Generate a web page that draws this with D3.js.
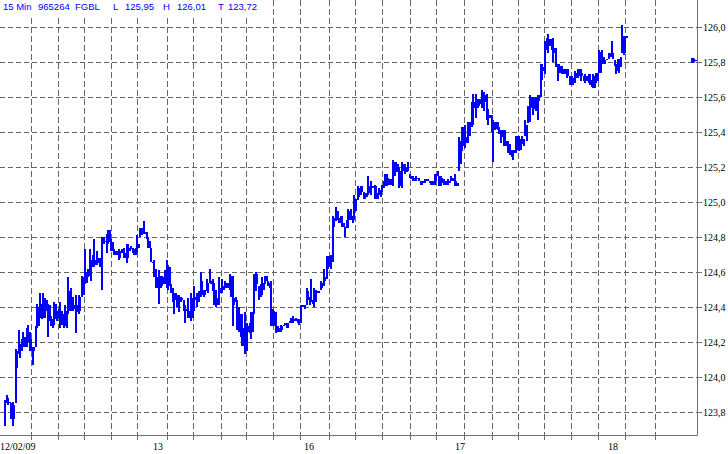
<!DOCTYPE html>
<html><head><meta charset="utf-8">
<script src="https://cdn.jsdelivr.net/npm/d3@7"></script>
<style>html,body{margin:0;padding:0;background:#fff;overflow:hidden;} svg{display:block;}</style>
</head><body>
<svg id="c" width="728" height="454"></svg>
<script>
// ---- DATA (15-minute bars, FGBL) ----
const high = [
123.87,123.90,123.88,123.86,123.85,123.86,123.84,124.16,124.15,124.27,
124.19,124.22,124.26,124.23,124.28,124.30,124.26,124.22,124.17,124.17,
124.29,124.42,124.40,124.48,124.42,124.48,124.45,124.44,124.42,124.41,
124.35,124.33,124.43,124.42,124.38,124.39,124.43,124.38,124.36,124.41,
124.38,124.57,124.49,124.51,124.46,124.41,124.47,124.41,124.47,124.46,
124.58,124.57,124.73,124.60,124.62,124.73,124.67,124.70,124.79,124.67,
124.72,124.68,124.68,124.80,124.80,124.78,124.82,124.84,124.84,
124.79,124.77,124.73,124.72,124.72,124.73,124.72,124.73,124.74,124.71,
124.76,124.76,124.74,124.75,124.74,124.73,124.74,124.81,124.76,124.85,
124.85,124.89,124.83,124.83,124.80,124.78,124.74,124.66,124.67,124.62,
124.57,124.61,124.58,124.58,124.57,124.61,124.67,124.64,124.63,124.53,
124.51,124.48,124.48,124.47,124.47,124.46,124.45,124.44,124.41,124.39,
124.45,124.38,124.48,124.45,124.52,124.46,124.48,124.49,124.60,124.55,
124.50,124.50,124.56,124.54,124.62,124.55,124.56,124.54,
124.50,124.45,124.57,124.51,124.56,124.52,124.55,124.54,124.54,124.59,
124.58,124.58,124.45,124.46,124.44,124.40,124.36,124.36,124.28,124.37,
124.31,124.29,124.31,124.37,124.37,124.59,124.60,124.59,124.52,124.53,
124.57,124.54,124.58,124.58,124.55,124.54,124.55,124.39,124.38,124.37,
124.29,124.28,124.30,124.29,124.30,124.31,124.31,124.31,124.32,124.34,
124.35,124.33,124.34,124.33,124.33,124.41,124.41,124.41,124.41,124.51,
124.49,124.46,124.56,124.44,124.51,124.50,124.49,124.49,
124.55,124.54,124.62,124.57,124.69,124.69,124.69,124.70,124.92,124.91,
124.97,124.95,124.91,124.92,124.92,124.88,124.86,124.90,124.96,124.95,
124.96,124.92,125.04,125.02,125.09,125.08,125.09,125.09,125.06,125.05,
125.05,125.15,125.09,125.12,125.09,125.10,125.09,125.05,125.08,125.07,
125.10,125.12,125.16,125.16,125.14,125.13,125.13,125.24,125.23,125.23,
125.22,125.20,125.18,125.23,125.22,125.22,125.20,125.23,
125.16,125.15,125.15,125.14,125.15,125.14,125.14,125.12,125.12,125.12,
125.13,125.13,125.13,125.12,125.12,125.12,125.16,125.16,125.18,125.15,
125.15,125.14,125.13,125.12,125.12,125.13,125.12,125.15,125.14,125.16,
125.12,125.11,125.37,125.35,125.43,125.43,125.44,125.37,125.46,125.46,
125.57,125.62,125.57,125.62,125.59,125.59,125.59,125.64,125.63,125.61,
125.62,125.53,125.50,125.50,125.47,125.46,125.46,125.46,125.43,125.41,
125.41,125.41,125.41,125.35,125.35,125.33,125.30,125.30,125.30,125.38,
125.38,125.38,
125.36,125.38,125.36,125.47,125.44,125.55,125.61,125.60,125.60,125.60,
125.60,125.61,125.61,125.79,125.79,125.77,125.92,125.94,125.96,125.93,
125.93,125.94,125.88,125.88,125.79,125.79,125.78,125.78,125.76,125.76,
125.76,125.76,125.72,125.72,125.71,125.75,125.74,125.76,125.76,125.76,
125.74,125.72,125.73,125.72,125.73,125.73,125.70,125.73,125.72,125.74,
125.74,125.87,125.86,125.87,125.83,125.81,125.82,125.85,125.85,125.92,
125.85,125.81,125.79,125.82,125.82,125.83,126.01,125.95,125.95,125.95
];
const low = [
123.72,123.85,123.84,123.85,123.76,123.72,123.76,123.85,124.05,124.13,
124.11,124.15,124.17,124.17,124.17,124.20,124.15,124.15,124.07,124.15,
124.17,124.28,124.29,124.34,124.33,124.34,124.34,124.38,124.23,124.32,
124.29,124.28,124.30,124.33,124.32,124.34,124.28,124.30,124.28,124.29,
124.28,124.36,124.38,124.38,124.38,124.39,124.25,124.37,124.36,124.38,
124.46,124.47,124.53,124.54,124.57,124.58,124.55,124.63,124.63,124.64,
124.64,124.65,124.63,124.50,124.76,124.77,124.71,124.76,124.77,
124.72,124.72,124.70,124.70,124.70,124.67,124.68,124.71,124.68,124.68,
124.65,124.68,124.72,124.73,124.71,124.70,124.70,124.71,124.74,124.80,
124.81,124.82,124.82,124.79,124.74,124.74,124.66,124.65,124.57,124.51,
124.51,124.42,124.51,124.52,124.53,124.53,124.51,124.50,124.52,124.48,
124.43,124.36,124.44,124.40,124.37,124.43,124.44,124.38,124.31,124.38,
124.34,124.34,124.32,124.34,124.38,124.44,124.40,124.43,124.46,124.47,
124.46,124.47,124.49,124.48,124.54,124.53,124.49,124.41,
124.40,124.41,124.41,124.48,124.48,124.50,124.51,124.51,124.51,124.50,
124.46,124.29,124.41,124.43,124.27,124.26,124.23,124.18,124.18,124.13,
124.15,124.26,124.25,124.22,124.26,124.36,124.49,124.53,124.44,124.46,
124.47,124.50,124.53,124.55,124.52,124.51,124.29,124.29,124.29,124.25,
124.26,124.26,124.26,124.27,124.29,124.30,124.28,124.28,124.31,124.31,
124.31,124.32,124.32,124.31,124.30,124.31,124.40,124.40,124.39,124.41,
124.44,124.41,124.43,124.42,124.40,124.43,124.48,124.48,
124.50,124.51,124.52,124.55,124.56,124.62,124.63,124.62,124.66,124.86,
124.89,124.90,124.88,124.88,124.86,124.86,124.80,124.85,124.85,124.90,
124.90,124.88,124.90,124.95,125.01,125.03,125.04,125.06,125.02,125.02,
125.03,125.04,125.05,125.04,125.08,125.02,125.02,125.02,125.04,125.03,
125.06,125.08,125.09,125.09,125.10,125.10,125.10,125.09,125.15,125.17,
125.17,125.08,125.09,125.08,125.18,125.16,125.17,125.18,
125.14,125.13,125.12,125.12,125.12,125.13,125.12,125.10,125.10,125.11,
125.11,125.12,125.12,125.11,125.10,125.10,125.10,125.12,125.15,125.09,
125.09,125.11,125.10,125.10,125.10,125.10,125.11,125.12,125.12,125.09,
125.09,125.09,125.18,125.22,125.29,125.32,125.31,125.34,125.34,125.38,
125.43,125.44,125.54,125.48,125.54,125.55,125.56,125.54,125.52,125.57,
125.47,125.44,125.48,125.40,125.23,125.41,125.42,125.41,125.39,125.34,
125.37,125.32,125.32,125.32,125.28,125.27,125.26,125.24,125.28,125.28,
125.30,125.29,
125.30,125.33,125.32,125.38,125.35,125.45,125.46,125.54,125.50,125.53,
125.52,125.47,125.58,125.60,125.70,125.75,125.73,125.87,125.85,125.89,
125.87,125.80,125.85,125.77,125.69,125.74,125.74,125.73,125.73,125.73,
125.71,125.72,125.67,125.67,125.67,125.68,125.71,125.71,125.72,125.69,
125.72,125.69,125.68,125.69,125.68,125.67,125.66,125.65,125.65,125.68,
125.69,125.74,125.74,125.79,125.79,125.79,125.81,125.82,125.83,125.83,
125.82,125.78,125.73,125.75,125.74,125.77,125.85,125.84,125.85,125.94
];
const yTicks = [123.8,124.0,124.2,124.4,124.6,124.8,125.0,125.2,125.4,125.6,125.8,126.0];
// vertical grid positions, in bar-index units
const gridIdx = [17.1,34.6,51.5,68.9,85.9,105.4,122.3,140.1,156.5,174.3,191.6,210.6,
                 227.3,245.1,263.1,279.7,298.3,316.1,333.4,350.3,367.6,385.0,403.0,422.4];
const dayLabels = ["12/02/09","13","16","17","18"];
const dayLabelIdx = [-3.25,96.1,194.2,292.3,391.7];
const headerTexts = ["15 Min","965264","FGBL","L","125,95","H","126,01","T","123,72"];
const markerPrice = 125.81;

// ---- DRAW ----
const svg = d3.select("#c");
const W = 728, H = 454;
const axisX = 697, axisY = 435;
const N = high.length;
const x = d3.scaleLinear().domain([0, N - 1]).range([5, 627]);
const y = d3.scaleLinear().domain([123.8, 126.0]).range([412, 27]);
const fmt = v => d3.format(".1f")(v).replace(".", ",");
const gridColor = "#666";

svg.append("rect").attr("width", W).attr("height", H).attr("fill", "#fff");

// horizontal grid
svg.append("g").selectAll("line").data(yTicks).join("line")
  .attr("x1", 0).attr("x2", axisX)
  .attr("y1", d => Math.round(y(d)) + 0.5).attr("y2", d => Math.round(y(d)) + 0.5)
  .attr("stroke", gridColor).attr("stroke-width", 1).attr("stroke-dasharray", "5,3");

// vertical grid
svg.append("g").selectAll("line").data(gridIdx).join("line")
  .attr("x1", d => Math.round(x(d)) + 0.5).attr("x2", d => Math.round(x(d)) + 0.5)
  .attr("y1", 0).attr("y2", axisY)
  .attr("stroke", gridColor).attr("stroke-width", 1).attr("stroke-dasharray", "6,3");

// header mask + text
svg.append("rect").attr("x", 0).attr("y", 0).attr("width", 256).attr("height", 16).attr("fill", "#fff");
const headerX = [3, 38, 75, 113, 125, 163, 177, 218, 228];
svg.append("g").selectAll("text").data(headerTexts).join("text")
  .attr("x", (d, i) => headerX[i]).attr("y", 10)
  .attr("font-family", "Liberation Sans, Arial, sans-serif").attr("font-size", 9.5)
  .attr("fill", "#0000ff").text(d => d);

// bars
svg.append("g").attr("shape-rendering", "crispEdges").selectAll("rect")
  .data(d3.range(N)).join("rect")
  .attr("x", i => x(i) - 1)
  .attr("width", 2)
  .attr("y", i => y(high[i]))
  .attr("height", i => Math.max(1, y(low[i]) - y(high[i])))
  .attr("fill", "#0000ff");

// axes lines
svg.append("line").attr("x1", 0).attr("x2", axisX + 0.5).attr("y1", axisY + 0.5).attr("y2", axisY + 0.5)
  .attr("stroke", "#707070").attr("stroke-width", 1);
svg.append("line").attr("x1", axisX + 0.5).attr("x2", axisX + 0.5).attr("y1", 0).attr("y2", axisY + 0.5)
  .attr("stroke", "#707070").attr("stroke-width", 1);

// right ticks + labels
const yt = svg.append("g");
yt.selectAll("line").data(yTicks).join("line")
  .attr("x1", axisX).attr("x2", axisX + 5)
  .attr("y1", d => Math.round(y(d)) + 0.5).attr("y2", d => Math.round(y(d)) + 0.5)
  .attr("stroke", "#707070");
yt.selectAll("text").data(yTicks).join("text")
  .attr("x", axisX + 6).attr("y", d => Math.round(y(d)) + 4)
  .attr("font-family", "Liberation Serif, Times New Roman, serif").attr("font-size", 10)
  .attr("fill", "#000").text(d => fmt(d));

// bottom ticks + labels
svg.append("g").selectAll("line").data(gridIdx).join("line")
  .attr("x1", d => Math.round(x(d)) + 0.5).attr("x2", d => Math.round(x(d)) + 0.5)
  .attr("y1", axisY + 1).attr("y2", axisY + 5).attr("stroke", "#707070");
svg.append("g").selectAll("text").data(dayLabels).join("text")
  .attr("x", (d, i) => Math.max(0, x(dayLabelIdx[i]))).attr("y", 450)
  .attr("font-family", "Liberation Serif, Times New Roman, serif").attr("font-size", 10)
  .attr("fill", "#000").text(d => d);

// last price marker
const my = Math.round(y(markerPrice)) + 0.5;
svg.append("path")
  .attr("d", `M${axisX - 6},${my - 2.5} L${axisX - 3},${my - 2.5} L${axisX - 1},${my} L${axisX - 3},${my + 2.5} L${axisX - 6},${my + 2.5} Z`)
  .attr("fill", "#0000ff");
svg.append("line").attr("x1", axisX - 2).attr("x2", axisX).attr("y1", my).attr("y2", my)
  .attr("stroke", "#0000ff");
</script>
</body></html>
